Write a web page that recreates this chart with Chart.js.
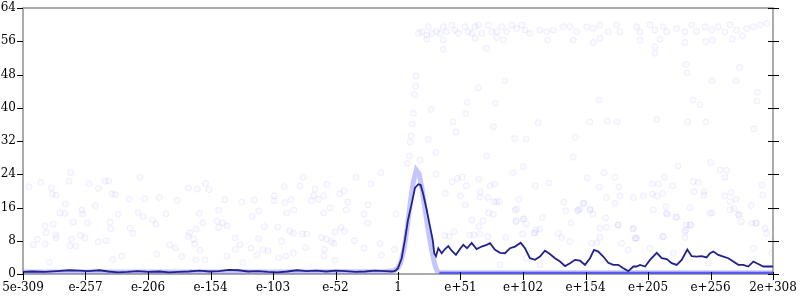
<!DOCTYPE html>
<html>
<head>
<meta charset="utf-8">
<script src="https://cdn.jsdelivr.net/npm/chart.js@4"></script>
<style>
  html, body { margin: 0; padding: 0; background: #fff; }
  #wrap { width: 800px; height: 300px; }
</style>
</head>
<body>
<div id="wrap"><canvas id="chart" width="800" height="300"></canvas></div>
<script>
// x is the decimal exponent of the input, y is the measured value
const xTickLabels = ['5e-309', 'e-257', 'e-206', 'e-154', 'e-103', 'e-52', '1', 'e+51', 'e+102', 'e+154', 'e+205', 'e+256', '2e+308'];
const xMin = -308, xMax = 308;
const yMin = 0, yMax = 64;

// dark averaged line
const darkX = [-308, -300, -290, -280, -270, -262, -255, -245, -238, -230, -222, -214, -205, -196, -188, -180, -172, -163, -155, -147, -139, -131, -123, -115, -107, -99, -91, -83, -75, -67, -59, -51, -43, -35, -27, -19, -11, -5, -2, 0,
  3.0, 5.7, 8.2, 11.3, 13.9, 16.7, 18.6, 20.5, 23.6, 26.3, 28.5, 29.8, 31.2, 33.1, 35.9, 38.6, 41.3, 44.1, 47.6, 50.9, 53.6, 56.7, 60.5, 64.6, 68.7, 72.8, 75.6,
  79.7, 83.8, 87.9, 92.0, 96.1, 100.8, 104.3, 108.4, 112.5, 116.6, 120.7, 124.8, 128.9, 133.1, 137.2, 141.3, 145.4, 149.5, 153.6, 157.7, 161.0, 164.5, 168.6, 172.7, 176.8, 180.9, 185.0, 189.2, 193.3,
  196.0, 198.8, 202.9, 207.0, 212.5, 216.6, 220.7, 224.8, 228.9, 233.0, 237.6, 241.2, 245.3, 249.4, 253.5, 256.3, 259.0, 263.1, 267.2, 271.3, 275.4, 279.5, 283.6, 287.7, 291.8, 295.9, 300.0, 308];
const darkY = [0.5, 0.6, 0.5, 0.7, 0.9, 0.8, 0.7, 0.9, 0.6, 0.4, 0.5, 0.7, 0.5, 0.6, 0.4, 0.5, 0.6, 0.8, 0.6, 0.7, 1.0, 0.9, 0.6, 0.7, 0.5, 0.4, 0.6, 0.9, 0.7, 0.8, 0.6, 0.8, 0.7, 0.5, 0.6, 0.8, 0.7, 0.6, 0.8, 1.4,
  3.8, 8.2, 13.0, 17.0, 20.7, 21.6, 21.4, 19.5, 15.4, 11.4, 8.2, 5.0, 4.3, 6.2, 5.0, 6.0, 6.7, 5.6, 4.6, 6.0, 7.0, 6.2, 7.5, 6.0, 6.6, 7.0, 7.4,
  5.8, 5.1, 5.0, 6.2, 6.6, 7.5, 6.2, 3.8, 3.4, 4.2, 5.6, 4.8, 3.8, 3.0, 1.9, 2.6, 3.4, 3.2, 2.2, 3.8, 5.8, 5.4, 4.2, 2.7, 2.2, 2.2, 1.4, 0.7, 1.8,
  1.8, 2.2, 1.8, 3.4, 5.1, 3.8, 3.6, 2.6, 2.2, 3.4, 5.9, 4.3, 4.2, 4.3, 4.0, 5.0, 5.4, 4.6, 4.2, 3.8, 3.0, 2.2, 2.2, 1.8, 3.0, 2.4, 1.8, 1.8];

// light thick line
const lightX = [-308, -200, -100, -10, -3, 0, 2, 5, 7.5, 10, 12.5, 15, 17.5, 20, 22.5, 25, 27.5, 30, 32, 34, 308];
const lightY = [0.5, 0.5, 0.5, 0.6, 0.8, 1.5, 2.5, 6, 11, 17, 22, 25, 24, 20, 15, 10, 6, 2.5, 0.8, 0.3, 0.3];

// dense band of samples near zero
const floorX = [34, 308];
const floorY = [0.2, 0.2];

// individual samples
const scatterLow = [
  [-269, 24.4], [-212, 23.3], [-303, 21.0], [-293.5, 22.0], [-284.4, 20.7], [-270, 22.3], [-253.8, 21.7], [-246.1, 20.6], [-240.6, 22.3], [-237.6, 22.4],
  [-283.9, 19.2], [-280.9, 19.0], [-273.2, 16.8], [-277.6, 14.7], [-273.5, 14.6], [-259.8, 15.4], [-259, 14.4], [-248.6, 16.4], [-234.9, 19.3], [-232.4, 19.1],
  [-220.7, 18.0], [-208, 18.1], [-229.7, 14.4], [-213.5, 14.8], [-209.4, 13.8], [-196, 18.4], [-190.5, 14.5], [-181.5, 17.7], [-172.2, 20.7], [-164.8, 20.4],
  [-157.9, 21.8], [-155.2, 20.3], [-163.2, 14.6], [-147.3, 15.3], [-142.3, 17.9], [-128.4, 17.3], [-118, 17.8], [-114.4, 15.2], [-119.7, 13.8], [-101.6, 18.8],
  [-101.8, 17.6], [-93.4, 21.0], [-92.8, 17.2], [-91.4, 14.7], [-87.6, 18.0], [-85.7, 15.4], [-80.5, 21.2], [-77.8, 23.3], [-69.2, 18.9], [-68.2, 20.4],
  [-71.2, 17.6], [-65.5, 18.0], [-61, 18.8], [-58.3, 21.6], [-55.8, 15.9], [-61, 14.7], [-47.9, 19.3], [-44.4, 20.0], [-41.3, 17.3], [-42.5, 15.4],
  [-34.5, 23.3], [-22.4, 21.7], [-14, 24.4], [-24.6, 16.7], [-27.9, 14.4], [-24.9, 12.2], [-1.6, 14.4],
  [-289.9, 11.5], [-283.1, 12.0], [-266.7, 12.5], [-255.2, 12.3], [-236.5, 12.5], [-236, 10.9], [-289.1, 9.9], [-281.1, 9.4], [-280.9, 8.7], [-296.2, 8.4],
  [-299.5, 7.0], [-289.9, 7.2], [-268, 8.4], [-269.4, 6.8], [-264.7, 6.7], [-260.9, 9.3], [-257.1, 8.7], [-246.1, 7.7], [-239.8, 8.0], [-220.1, 11.0],
  [-217.9, 9.8], [-201.5, 13.0], [-199, 12.0], [-187.5, 7.0], [-182.9, 6.3], [-172.2, 9.1], [-171.1, 9.9], [-165.7, 10.8], [-167.8, 8.4], [-167, 7.2],
  [-162.6, 5.7], [-160.2, 12.3], [-148.7, 12.7], [-144, 12.3], [-140.4, 11.6], [-147.3, 11.2], [-133.9, 8.7], [-129.8, 7.1], [-133.6, 5.9], [-114.7, 8.5],
  [-120.7, 6.2], [-110.9, 5.9], [-109.8, 11.4], [-98.8, 11.3], [-95.5, 7.9], [-88.9, 10.3], [-86, 9.8], [-78.6, 9.6], [-75, 9.6], [-76.1, 6.4],
  [-62.7, 8.8], [-59.1, 8.4], [-54.5, 7.9], [-52.8, 7.4], [-60.5, 5.9], [-51.7, 10.1], [-46.8, 11.2], [-44.1, 10.3], [-35.9, 8.0], [-14.8, 7.3],
  [-3, 5.9], [-27.7, 6.2],
  [-286.4, 2.8], [-234.3, 3.5], [-226.9, 4.3], [-198.2, 4.8], [-177.6, 4.2], [-166.1, 3.4], [-158.5, 3.4], [-140.7, 4.3], [-127.5, 2.7], [-116, 4.6],
  [-106.8, 5.6], [-98, 3.9], [-92.2, 4.3], [-86, 5.0], [-60.8, 4.4], [-51.7, 3.3], [-13.7, 4.5]
];
const scatterHigh = [
  [14.8, 47.7], [14.5, 45.2], [13.4, 43.2], [12.6, 38.7], [11.7, 36.1], [10.7, 33.2], [10.1, 31.7], [9.3, 28.4], [7.6, 26.6], [18.3, 27.4],
  [27.1, 39.6], [24.9, 32.4], [31.0, 29.2], [31.2, 24.0], [66.0, 44.8], [87.6, 46.5], [56.9, 41.3], [79.9, 41.1], [55.6, 38.6], [45.2, 36.6],
  [47.6, 34.2], [78.6, 35.4], [95.8, 32.6], [105.1, 32.5], [72.8, 28.4], [102.9, 25.8], [115.2, 36.4], [145.6, 32.9], [144.0, 28.1], [157.4, 36.6],
  [165.1, 41.9], [171.9, 36.8], [179.9, 36.6], [212.5, 37.2], [236.5, 50.4], [237.6, 48.4], [242.3, 41.9], [247.8, 40.7], [257.9, 46.5], [277.6, 46.5],
  [280.6, 49.7], [295.1, 43.7], [294.8, 41.6], [292.4, 34.9], [237.9, 36.6], [252.7, 36.6], [230.0, 26.0], [256.8, 26.9], [264.5, 25.0], [270.0, 25.0],
  [268.6, 23.3], [94.4, 24.4], [44.4, 22.2], [48.7, 23.0], [52.6, 23.3], [56.1, 21.2], [66.3, 22.8], [75.6, 21.2], [79.4, 21.7], [38.8, 19.4],
  [51.2, 18.8], [67.6, 19.7], [67.3, 18.5], [73.7, 18.4], [78.6, 17.4], [83.2, 17.4], [55.3, 16.6], [74.5, 14.7], [78.3, 14.4], [60.5, 13.0],
  [69.8, 12.8], [66.5, 11.4], [46.0, 10.2], [38.4, 9.2], [42.1, 9.1], [58.9, 9.4], [62.2, 9.4], [67.1, 9.6], [73.7, 9.0], [88.5, 8.8],
  [96.1, 15.4], [99.1, 18.0], [97.2, 12.8], [105.4, 12.0], [103.5, 13.3], [102.4, 9.6], [111.7, 9.8], [113.3, 10.6], [118.5, 13.6], [112.8, 21.2],
  [124.0, 21.9], [136.1, 17.3], [137.7, 15.2], [142.1, 12.3], [147.3, 15.2], [149.5, 15.6], [152.8, 17.0], [157.9, 15.4], [160.2, 14.4], [155.5, 23.1],
  [165.3, 20.9], [169.2, 24.4], [171.1, 18.4], [170.6, 13.5], [178.2, 23.3], [181.3, 20.9], [182.3, 18.8], [178.2, 17.0], [180.7, 11.8], [192.8, 10.8],
  [193.3, 18.4], [201.5, 18.8], [208.9, 21.7], [214.1, 21.7], [208.9, 19.2], [212.7, 18.8], [218.7, 23.3], [217.6, 19.4], [220.1, 16.2], [221.2, 14.4],
  [209.7, 15.4], [228.3, 13.6], [225.6, 21.2], [236.5, 11.8], [240.4, 11.8], [236.5, 10.6], [242.5, 22.2], [246.6, 22.0], [243.1, 19.8], [239.8, 16.0],
  [251.3, 19.8], [251.3, 19.0], [258.1, 14.7], [268.6, 18.8], [273.7, 19.6], [272.9, 17.4], [277.6, 18.0], [276.2, 15.7], [272.7, 15.5], [280.1, 14.3],
  [282.0, 12.6], [290.2, 16.5], [290.5, 12.2], [294.3, 12.3], [299.0, 21.4], [299.5, 19.0], [217.4, 9.0], [195.2, 8.6], [165.9, 8.8], [235.7, 8.8],
  [81.1, 17.4], [97.5, 15.6], [102.9, 13.2], [97.0, 12.6], [112.5, 9.9], [116.6, 10.8], [131.7, 9.8], [134.4, 8.8], [141.3, 7.8], [152.2, 17.0],
  [148.1, 15.4], [157.7, 15.6], [165.9, 11.0], [171.4, 11.2], [180.9, 11.8], [189.1, 5.8], [196.0, 8.6], [163.2, 7.5], [159.1, 7.4], [116.6, 2.2],
  [105.1, 3.8], [83.8, 2.2], [183.7, 7.4], [193.3, 11.0], [194.6, 8.6], [207.0, 6.2], [217.9, 9.0], [226.1, 5.0], [235.7, 10.2], [239.8, 11.8],
  [256.2, 14.6], [279.5, 14.2], [294.0, 12.2], [301.4, 11.0], [302.8, 9.8], [291.8, 6.2], [306.9, 5.0], [254.9, 2.6], [220.4, 14.6], [228.9, 13.8]
];
const scatterTop = [
  [16.7, 57.9], [19.5, 58.3], [23.6, 57.5], [24.9, 59.5], [27.7, 57.9], [31.8, 58.3], [34.5, 57.9], [37.2, 59.5], [40.0, 58.3], [44.1, 59.9],
  [46.8, 58.7], [49.5, 57.9], [55.0, 59.5], [57.7, 58.3], [60.5, 57.9], [63.2, 59.5], [66.0, 59.9], [68.7, 57.9], [74.2, 59.9], [77.0, 58.3],
  [81.1, 58.3], [85.2, 59.5], [89.3, 58.3], [93.4, 59.9], [97.5, 59.1], [101.6, 59.9], [104.3, 58.7], [108.4, 57.9], [116.6, 58.7], [122.1, 58.3],
  [127.5, 58.7], [135.8, 59.5], [141.3, 59.5], [146.8, 58.3], [155.0, 59.5], [160.4, 59.1], [165.9, 59.9], [172.7, 58.3], [179.6, 59.9], [182.3, 58.3],
  [196.0, 59.5], [198.8, 58.3], [207.0, 59.9], [211.1, 58.7], [217.9, 59.5], [220.7, 58.3], [228.9, 59.1], [235.7, 58.3], [241.2, 59.9], [245.3, 58.3],
  [252.1, 59.5], [257.6, 58.7], [263.1, 59.5], [268.6, 58.3], [272.7, 59.9], [278.2, 58.7], [286.4, 59.1], [291.8, 59.5], [297.3, 59.9], [302.8, 60.3],
  [23.6, 56.5], [37.2, 56.3], [63.2, 56.7], [81.1, 56.9], [86.6, 56.3], [122.9, 56.3], [144.0, 56.3], [160.4, 55.7], [165.9, 56.7], [198.8, 56.3],
  [215.2, 56.5], [235.7, 55.7], [252.7, 55.9], [258.2, 56.3], [274.6, 56.5], [282.8, 57.3], [72.8, 54.3], [37.2, 54.1], [211.1, 54.7], [211.1, 53.1]
];

const FONT = { family: 'DejaVu Serif', size: 12 };
const xTickPos = xTickLabels.map((_, i) => xMin + i * (xMax - xMin) / (xTickLabels.length - 1));
const toXY = (xs, ys) => xs.map((x, i) => ({ x, y: ys[i] }));
const toPts = arr => arr.map(([x, y]) => ({ x, y }));

// tick marks: major/minor lengths differ, so they are drawn here from the scales
const tickMarks = {
  id: 'tickMarks',
  afterDraw(chart) {
    const { ctx, chartArea: a, scales } = chart;
    ctx.save();
    // top frame line
    ctx.strokeStyle = '#aaa';
    ctx.lineWidth = 2;
    ctx.beginPath();
    ctx.moveTo(a.left, a.top);
    ctx.lineTo(a.right + 1, a.top);
    ctx.stroke();

    ctx.lineWidth = 1;
    scales.y.ticks.forEach(t => {
      const py = Math.round(scales.y.getPixelForValue(t.value)) + 0.5;
      const major = t.value % 8 === 0;
      ctx.strokeStyle = major ? '#000' : '#555';
      ctx.beginPath();
      ctx.moveTo(a.left - (major ? 6 : 3), py);
      ctx.lineTo(a.left, py);
      ctx.moveTo(a.right - (major ? 5 : 0), py);
      ctx.lineTo(a.right + (major ? 6 : 4), py);
      ctx.stroke();
    });
    scales.x.ticks.forEach(t => {
      const px = Math.round(scales.x.getPixelForValue(t.value)) + 0.5;
      ctx.strokeStyle = '#000';
      ctx.beginPath();
      ctx.moveTo(px, a.bottom - 2);
      ctx.lineTo(px, a.bottom + 6);
      ctx.stroke();
    });
    ctx.restore();
  }
};

new Chart(document.getElementById('chart'), {
  type: 'scatter',
  data: {
    datasets: [
      {
        label: 'mean',
        type: 'line',
        data: toXY(darkX, darkY),
        borderColor: '#22228c',
        borderWidth: 1.8,
        pointRadius: 0,
        tension: 0,
        order: 0
      },
      {
        label: 'median',
        type: 'line',
        data: toXY(lightX, lightY),
        borderColor: 'rgba(110, 110, 255, 0.4)',
        borderWidth: 5,
        pointRadius: 0,
        tension: 0,
        order: 1
      },
      {
        label: 'floor',
        type: 'line',
        data: toXY(floorX, floorY),
        borderColor: 'rgba(50, 50, 230, 0.85)',
        borderWidth: 3,
        pointRadius: 0,
        order: 2
      },
      {
        label: 'samples',
        data: toPts(scatterLow.concat(scatterHigh, scatterTop)),
        pointRadius: 3,
        borderWidth: 1,
        borderColor: 'rgba(120, 120, 255, 0.11)',
        backgroundColor: 'rgba(120, 120, 255, 0.035)',
        order: 3
      }
    ]
  },
  options: {
    responsive: false,
    animation: false,
    devicePixelRatio: 1,
    layout: { padding: { top: 8, right: 0, left: 0, bottom: 0 } },
    plugins: { legend: { display: false }, tooltip: { enabled: false } },
    scales: {
      x: {
        type: 'linear',
        min: xMin,
        max: xMax,
        afterBuildTicks: s => { s.ticks = xTickPos.map(v => ({ value: v })); },
        afterFit: s => { s.height = 26; s.paddingLeft = 0; s.paddingRight = 0; },
        ticks: {
          autoSkip: false,
          maxRotation: 0,
          padding: 7,
          color: '#000',
          font: FONT,
          callback: (v, i) => xTickLabels[i]
        },
        grid: { display: true, drawOnChartArea: false, drawTicks: false },
        border: { color: '#aaa', width: 2 }
      },
      y: {
        position: 'left',
        min: yMin,
        max: yMax,
        afterFit: s => { s.width = 23; s.paddingTop = 0; s.paddingBottom = 0; },
        ticks: {
          stepSize: 4,
          padding: 7,
          color: '#000',
          font: FONT,
          callback: v => (v % 8 === 0 ? v : '')
        },
        grid: { display: true, drawOnChartArea: false, drawTicks: false },
        border: { color: '#aaa', width: 2 }
      },
      y2: {
        position: 'right',
        min: yMin,
        max: yMax,
        afterFit: s => { s.width = 27; s.paddingTop = 0; s.paddingBottom = 0; },
        ticks: { display: false, stepSize: 4 },
        grid: { display: true, drawOnChartArea: false, drawTicks: false },
        border: { color: '#aaa', width: 2 }
      }
    }
  },
  plugins: [tickMarks]
});
</script>
</body>
</html>
